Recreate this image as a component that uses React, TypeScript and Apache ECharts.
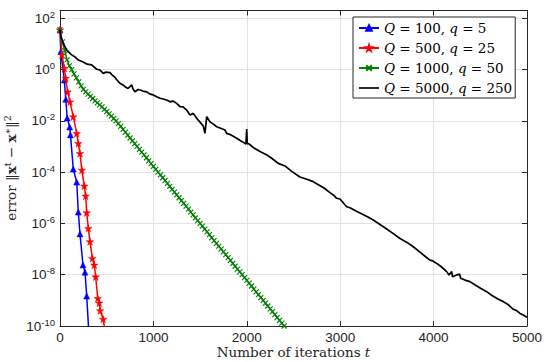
import React, { useEffect, useRef } from "react";
import * as echarts from "echarts";

// Axis ticks
const xTicks = [0, 1000, 2000, 3000, 4000, 5000];
const yTickExps = [-10, -8, -6, -4, -2, 0, 2];
const yTopError = 200;

const seriesNames = [
  "Q = 100, q = 5",
  "Q = 500, q = 25",
  "Q = 1000, q = 50",
  "Q = 5000, q = 250",
];

// Q = 100, q = 5 : iteration and log10 of the error
const itQ100 = [0, 8, 46, 62, 77, 104, 112, 142, 179, 196, 214, 246, 268, 286, 307];
const log10ErrQ100 = [1.55, 0.7, -0.41, -1.16, -1.89, -2.24, -2.55, -3.88, -4.39, -5.56, -6.41, -7.62, -7.9, -8.83, -10.15];

// Q = 500, q = 25
const itQ500 = [0, 21, 46, 61, 82, 107, 142, 179, 196, 214, 234, 260, 275, 286, 303, 321, 346, 367, 382, 404, 420, 430, 462, 480];
const log10ErrQ500 = [1.55, 0.57, 0.05, -0.34, -0.87, -1.26, -1.84, -2.49, -2.88, -3.27, -3.92, -4.54, -4.93, -5.58, -6.19, -6.71, -7.36, -7.62, -8.08, -8.92, -9.1, -9.4, -9.73, -10.15];

// Q = 1000, q = 50
const itQ1000 = [
  0, 25, 50, 75, 100, 125, 150, 175, 200, 225, 250, 275, 300, 325, 350, 375, 400, 425, 450, 475,
  500, 525, 550, 575, 600, 625, 650, 675, 700, 725, 750, 775, 800, 825, 850, 875, 900, 925, 950, 975,
  1000, 1025, 1050, 1075, 1100, 1125, 1150, 1175, 1200, 1225, 1250, 1275, 1300, 1325, 1350, 1375, 1400, 1425, 1450, 1475,
  1500, 1525, 1550, 1575, 1600, 1625, 1650, 1675, 1700, 1725, 1750, 1775, 1800, 1825, 1850, 1875, 1900, 1925, 1950, 1975,
  2000, 2025, 2050, 2075, 2100, 2125, 2150, 2175, 2200, 2225, 2250, 2275, 2300, 2325, 2350, 2375, 2400, 2425,
];
const log10ErrQ1000 = [
  1.55, 1.08, 0.74, 0.38, 0.14, 0.0, -0.17, -0.33, -0.48, -0.64, -0.77, -0.87, -0.96, -1.05, -1.13, -1.22, -1.3, -1.38, -1.46, -1.55,
  -1.64, -1.73, -1.82, -1.91, -2.0, -2.11, -2.22, -2.33, -2.44, -2.56, -2.67, -2.78, -2.89, -3.0, -3.11, -3.22, -3.33, -3.44, -3.56, -3.67,
  -3.78, -3.89, -4.0, -4.11, -4.22, -4.33, -4.44, -4.56, -4.67, -4.78, -4.89, -5.0, -5.11, -5.22, -5.33, -5.44, -5.56, -5.67, -5.78, -5.89,
  -6.0, -6.11, -6.22, -6.33, -6.44, -6.56, -6.67, -6.78, -6.89, -7.0, -7.11, -7.22, -7.33, -7.44, -7.56, -7.67, -7.78, -7.89, -8.0, -8.11,
  -8.22, -8.33, -8.44, -8.56, -8.67, -8.78, -8.89, -9.0, -9.11, -9.22, -9.33, -9.44, -9.56, -9.67, -9.78, -9.89, -10.0, -10.11,
];

// Q = 5000, q = 250
const itQ5000 = [
  0, 11, 35, 72, 125, 161, 196, 249, 289, 339, 393, 428, 464, 492, 535, 557, 589, 610, 642, 674,
  696, 728, 768, 782, 803, 835, 856, 889, 928, 964, 999, 1035, 1071, 1103, 1142, 1178, 1210, 1249, 1285, 1317,
  1356, 1392, 1427, 1463, 1499, 1534, 1552, 1571, 1606, 1638, 1678, 1713, 1766, 1785, 1831, 1892, 1938, 1981, 1991, 1999,
  2005, 2016, 2077, 2141, 2205, 2270, 2337, 2409, 2484, 2569, 2634, 2698, 2762, 2826, 2891, 2926, 2962, 2998, 3069, 3105,
  3169, 3233, 3297, 3354, 3426, 3490, 3565, 3640, 3715, 3779, 3854, 3918, 3961, 3983, 4033, 4079, 4140, 4165, 4194, 4202,
  4247, 4277, 4282, 4290, 4336, 4389, 4454, 4507, 4568, 4625, 4689, 4746, 4796, 4853, 4889, 4925, 4960, 5000,
];
const log10ErrQ5000 = [
  1.55, 1.27, 1.02, 0.76, 0.57, 0.49, 0.37, 0.29, 0.21, 0.18, 0.01, -0.02, -0.15, -0.1, -0.12, -0.21, -0.31, -0.41, -0.54, -0.6,
  -0.67, -0.74, -0.6, -0.76, -0.87, -0.78, -0.8, -0.84, -0.87, -0.96, -0.99, -1.06, -1.12, -1.15, -1.19, -1.26, -1.23, -1.32, -1.45, -1.46,
  -1.58, -1.77, -1.71, -1.9, -2.05, -2.2, -2.49, -1.84, -2.04, -2.12, -2.23, -2.28, -2.36, -2.49, -2.55, -2.68, -2.79, -2.88, -2.9, -2.32,
  -2.9, -2.88, -3.06, -3.2, -3.31, -3.47, -3.66, -3.76, -3.98, -4.19, -4.27, -4.35, -4.48, -4.62, -4.8, -4.89, -5.02, -5.05, -5.35, -5.39,
  -5.52, -5.63, -5.75, -5.87, -6.04, -6.2, -6.39, -6.59, -6.74, -6.9, -7.12, -7.31, -7.43, -7.45, -7.56, -7.68, -7.88, -8.01, -7.88, -8.08,
  -8.01, -7.97, -7.95, -8.14, -8.21, -8.27, -8.42, -8.54, -8.66, -8.81, -8.95, -9.05, -9.16, -9.35, -9.4, -9.51, -9.57, -9.66,
];

const AXIS = "#262626";
const GRID = "#e2e2e2";
const SANS = "'Liberation Sans', Arial, Helvetica, sans-serif";
const SERIF = "'DejaVu Serif', 'Liberation Serif', serif";

const STAR =
  "path://M0,-10L2.245,-3.09L9.51,-3.09L3.633,1.18L5.88,8.09L0,3.82L-5.88,8.09L-3.633,1.18L-9.51,-3.09L-2.245,-3.09Z";
const CROSS = "path://M0,0L10,10M10,0L0,10";

const pairs = (xs: number[], ys: number[]) => xs.map((x, i) => [x, ys[i]]);

const expLabel = (v: number) => {
  const e = Math.round(v);
  if (Math.abs(v - e) > 1e-6 || !yTickExps.includes(e)) return "";
  return `{b|10}{e|${e}}`;
};

function buildOption() {
  const xMin = xTicks[0];
  const xMax = xTicks[xTicks.length - 1];
  const xStep = xTicks[1] - xTicks[0];
  const yMin = yTickExps[0];
  const yMax = Math.log10(yTopError);
  const yStep = yTickExps[1] - yTickExps[0];

  const axisLine = { show: true, onZero: false, lineStyle: { color: AXIS, width: 1 } };
  const axisTick = { show: true, inside: true, length: 5, lineStyle: { color: AXIS, width: 1 } };

  const lineSeries = (
    name: string,
    data: number[][],
    color: string,
    width: number,
    symbol: string,
    symbolSize: number,
    borderWidth: number,
    z: number
  ) => ({
    name,
    type: "line",
    data,
    xAxisIndex: 0,
    yAxisIndex: 0,
    symbol,
    symbolSize,
    showSymbol: symbol !== "none",
    clip: true,
    z,
    lineStyle: { color, width },
    itemStyle: { color, borderColor: color, borderWidth },
    emphasis: { disabled: true },
  });

  return {
    animation: false,
    backgroundColor: "#ffffff",
    grid: { left: 60, right: 17, top: 10.5, bottom: 36, containLabel: false, outerBoundsMode: "none" },
    xAxis: [
      {
        type: "value",
        position: "bottom",
        min: xMin,
        max: xMax,
        interval: xStep,
        axisLine,
        axisTick,
        axisLabel: {
          show: true,
          margin: 4,
          color: AXIS,
          fontFamily: SANS,
          fontSize: 13.5,
          lineHeight: 14,
          formatter: (v: number) => String(v),
        },
        splitLine: { show: true, lineStyle: { color: GRID, width: 1 } },
      },
      {
        type: "value",
        position: "top",
        min: xMin,
        max: xMax,
        interval: xStep,
        axisLine,
        axisTick,
        axisLabel: { show: false },
        splitLine: { show: false },
      },
    ],
    yAxis: [
      {
        type: "value",
        position: "left",
        min: yMin,
        max: yMax,
        interval: yStep,
        axisLine,
        axisTick,
        axisLabel: {
          show: true,
          margin: 5,
          showMaxLabel: false,
          formatter: expLabel,
          rich: {
            b: { fontFamily: SANS, fontSize: 13.5, color: AXIS, lineHeight: 18, verticalAlign: "middle" },
            e: { fontFamily: SANS, fontSize: 9.5, color: AXIS, lineHeight: 9, verticalAlign: "top" },
          },
        },
        splitLine: { show: true, lineStyle: { color: GRID, width: 1 } },
      },
      {
        type: "value",
        position: "right",
        min: yMin,
        max: yMax,
        interval: yStep,
        axisLine,
        axisTick,
        axisLabel: { show: false },
        splitLine: { show: false },
      },
    ],
    legend: {
      orient: "vertical",
      left: 353,
      top: 17,
      data: [
        seriesNames[0],
        seriesNames[1],
        seriesNames[2],
        { name: seriesNames[3], icon: "path://M0,0L40,0L40,3.4L0,3.4Z" },
      ],
      selectedMode: false,
      backgroundColor: "#ffffff",
      borderColor: AXIS,
      borderWidth: 1,
      borderRadius: 0,
      padding: [3, 3, 2, 5],
      itemGap: 4,
      itemWidth: 20,
      itemHeight: 7,
      formatter: (name: string) => name.replace(/\b([Qq])\b/g, "{i|$1}"),
      textStyle: {
        fontFamily: SERIF,
        fontSize: 13.5,
        color: "#000",
        lineHeight: 16,
        rich: {
          i: { fontFamily: SERIF, fontSize: 13.5, fontStyle: "italic", color: "#000", lineHeight: 16 },
        },
      },
    },
    graphic: [
      {
        type: "text",
        x: 293.5,
        y: 352,
        silent: true,
        style: {
          text: "Number of iterations {i|t}",
          fontFamily: SERIF,
          fontSize: 13.5,
          fill: AXIS,
          align: "center",
          verticalAlign: "middle",
          rich: {
            i: { fontFamily: SERIF, fontSize: 13.5, fontStyle: "italic", fill: AXIS },
          },
        },
      },
      {
        type: "text",
        x: 11,
        y: 168,
        rotation: Math.PI / 2,
        silent: true,
        style: {
          text: "error \u2016{bx|x}{sup|t} \u2212 {bx|x}{sup|\u2217}\u2016{sup|2}",
          fontFamily: SERIF,
          fontSize: 13.5,
          fill: AXIS,
          align: "center",
          verticalAlign: "middle",
          lineHeight: 18,
          rich: {
            bx: { fontFamily: SERIF, fontSize: 13.5, fontWeight: "bold", fill: AXIS, lineHeight: 18 },
            sup: { fontFamily: SERIF, fontSize: 9.5, fill: AXIS, lineHeight: 9, verticalAlign: "top" },
          },
        },
      },
    ],
    series: [
      lineSeries(seriesNames[0], pairs(itQ100, log10ErrQ100), "#0000ff", 1.5, "triangle", 6, 0.5, 2),
      lineSeries(seriesNames[1], pairs(itQ500, log10ErrQ500), "#ff0000", 1.5, STAR, 7.5, 0.5, 3),
      lineSeries(seriesNames[2], pairs(itQ1000, log10ErrQ1000), "#008000", 1.5, CROSS, 5, 1.1, 4),
      lineSeries(seriesNames[3], pairs(itQ5000, log10ErrQ5000), "#000000", 1.7, "none", 0, 0, 5),
    ],
  };
}

export default function App() {
  const ref = useRef<HTMLDivElement>(null);
  useEffect(() => {
    if (!ref.current) return;
    const chart = echarts.init(ref.current, null, { renderer: "svg" });
    chart.setOption(buildOption() as any);
    return () => chart.dispose();
  }, []);
  return (
    <div
      ref={ref}
      style={{ position: "absolute", left: 0, top: 0, width: 544, height: 362, background: "#ffffff" }}
    />
  );
}
